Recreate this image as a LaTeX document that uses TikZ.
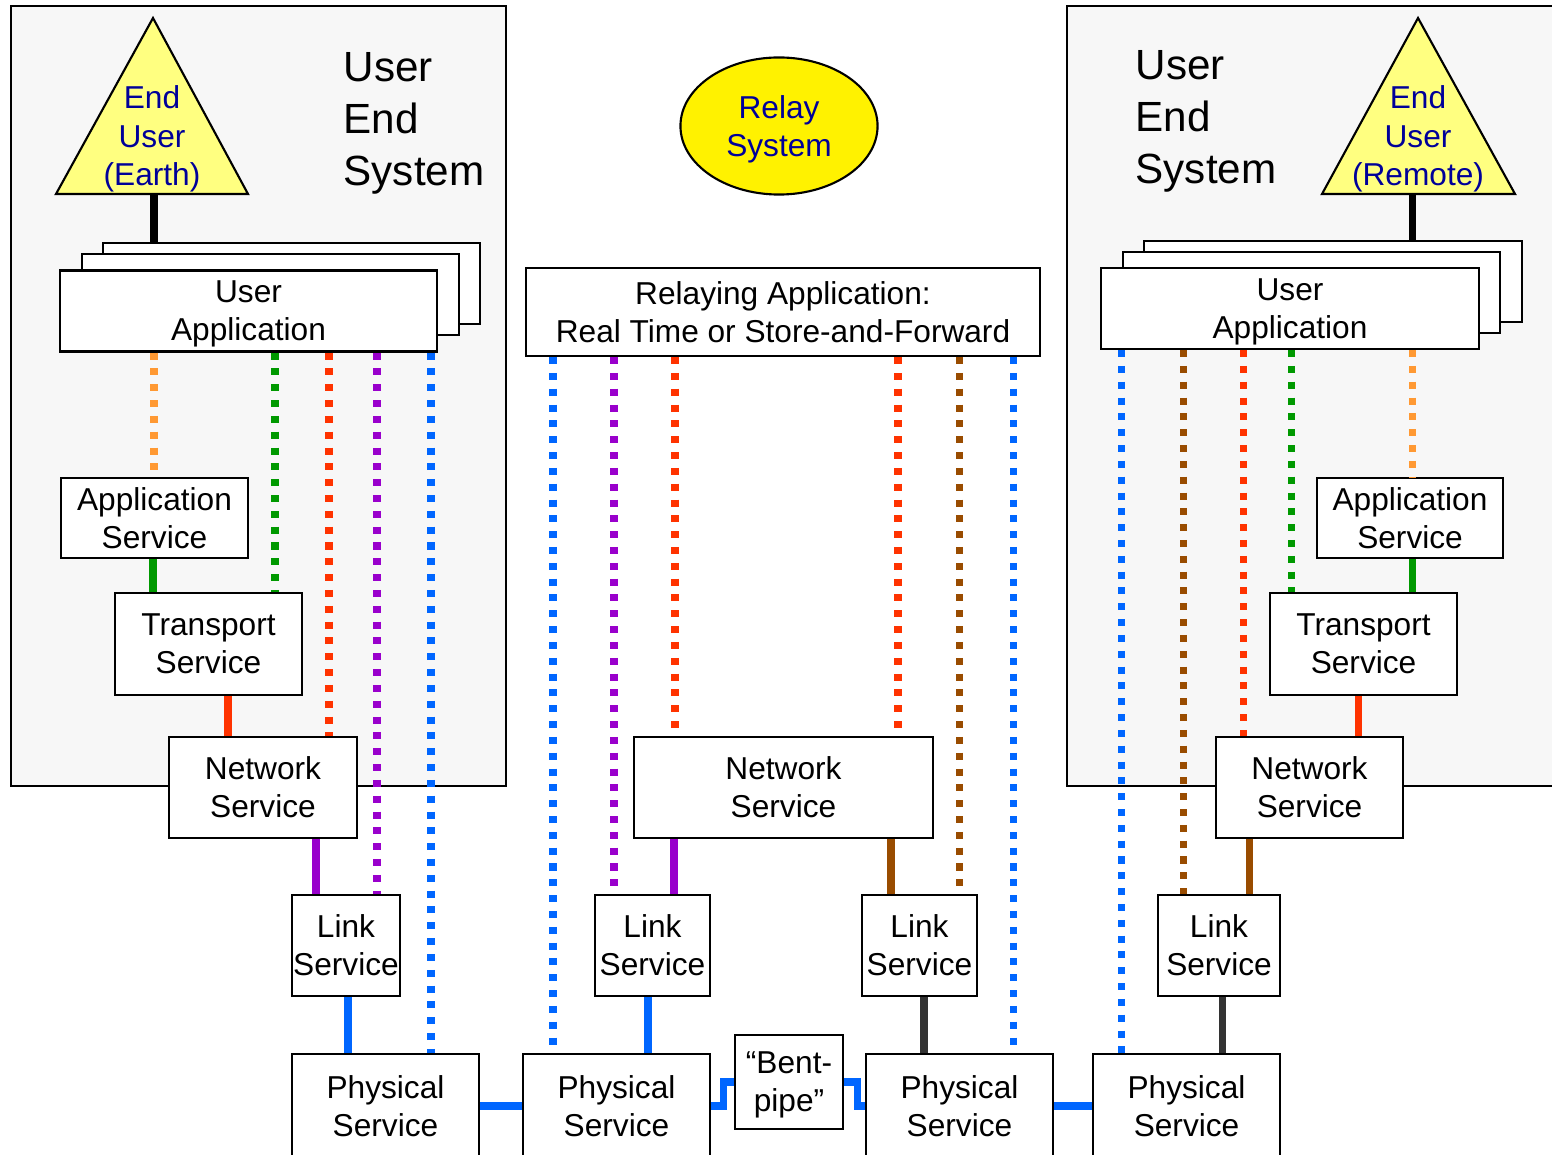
\documentclass[tikz,border=0pt]{standalone}
\usepackage{fontspec}
\setmainfont{Liberation Sans}
\usetikzlibrary{shapes.geometric}
\definecolor{cOrange}{HTML}{FF9933}
\definecolor{cGreen}{HTML}{009900}
\definecolor{cRed}{HTML}{FF3300}
\definecolor{cPurple}{HTML}{9900CC}
\definecolor{cBlue}{HTML}{0066FF}
\definecolor{cBrown}{HTML}{994C00}
\definecolor{cDark}{HTML}{333333}
\definecolor{cGray}{HTML}{F7F7F7}
\definecolor{cPale}{HTML}{FFFF80}
\definecolor{cInk}{HTML}{000099}
\tikzset{
  svc_box/.style = {draw=black, fill=white, line width=0.6pt, align=center,
    inner sep=0pt, text depth=0pt, font=\fontsize{9pt}{10.8pt}\selectfont},% service layer box
  ua_box/.style = {svc_box, minimum width=3.77cm, minimum height=0.81cm},% user application
  phy_box/.style = {svc_box, minimum width=1.87cm, minimum height=1.04cm},
  link_box/.style = {svc_box, minimum height=1.01cm},
  net_box/.style = {svc_box, minimum height=1.01cm},
  sys_box/.style = {draw=black, fill=cGray, line width=0.6pt},% end system frame
  sys_txt/.style = {align=left, inner sep=0pt, anchor=west, text depth=0pt,
    font=\fontsize{12pt}{14.8pt}\selectfont},
  eu_tri/.style = {draw=black, fill=cPale, line width=0.6pt},% end user
  eu_txt/.style = {align=center, inner sep=0pt, text=cInk,
    font=\fontsize{9pt}{10.9pt}\selectfont},
  relay_e/.style = {ellipse, draw=black, fill=yellow, line width=0.6pt, inner sep=0pt,
    minimum width=1.97cm, minimum height=1.37cm, align=center, text=cInk,
    text depth=0pt, font=\fontsize{9pt}{10.9pt}\selectfont},
  solid_l/.style = {line width=2pt},% same-layer link
  dot_l/.style = {line width=2pt, dash pattern=on 2pt off 2.5pt}% peer layer
}
\begin{document}
\begin{tikzpicture}[x=0.01cm, y=-0.01cm]
  \useasboundingbox (0,0) rectangle (1552,1155);
  \clip (0,0) rectangle (1552,1155);
  % end systems
  \draw[sys_box] (11,6) rectangle (506,786);
  \draw[sys_box] (1067,6) rectangle (1600,786);
  \node[sys_txt] (uesL) at (343,119) {User\\End\\System};
  \node[sys_txt] (uesR) at (1135,117) {User\\End\\System};
  \draw[eu_tri] (153,18) -- (248,194) -- (56,194) -- cycle;
  \node[eu_txt] (euL) at (152,139) {End\\User\\(Earth)};
  \coordinate (euLb) at (154,194);
  \draw[eu_tri] (1418,18) -- (1515,194) -- (1322,194) -- cycle;
  \node[eu_txt] (euR) at (1418,139) {End\\User\\(Remote)};
  \coordinate (euRb) at (1412,194);
  \node[relay_e] (rsys) at (779,126) {Relay\\System};
  % applications
  \node[ua_box] (uaL3) at (291.5,283.5) {};
  \node[ua_box] (uaL2) at (270.5,294.5) {};
  \node[ua_box] (uaL) at (248.5,311) {User\\Application};
  \node[ua_box] (uaR3) at (1333,281.5) {};
  \node[ua_box] (uaR2) at (1311.5,292.5) {};
  \node[ua_box] (uaR) at (1290,308.5) {User\\Application};
  \node[svc_box, minimum width=5.14cm, minimum height=0.88cm] (relay) at (783,312)
    {Relaying Application:\\Real Time or Store-and-Forward};
  % left stack
  \node[svc_box, minimum width=1.87cm, minimum height=0.80cm] (appL) at (154.5,518) {Application\\Service};
  \node[svc_box, minimum width=1.87cm, minimum height=1.02cm] (trL) at (208.5,644) {Transport\\Service};
  \node[net_box, minimum width=1.88cm] (netL) at (263,787.5) {Network\\Service};
  \node[link_box, minimum width=1.08cm] (linkL) at (346,945.5) {Link\\Service};
  \node[phy_box] (phyL) at (385.5,1106) {Physical\\Service};
  % relay stack
  \node[net_box, minimum width=2.99cm] (netM) at (783.5,787.5) {Network\\Service};
  \node[link_box, minimum width=1.15cm] (linkML) at (652.5,945.5) {Link\\Service};
  \node[link_box, minimum width=1.15cm] (linkMR) at (919.5,945.5) {Link\\Service};
  \node[phy_box] (phyML) at (616.5,1106) {Physical\\Service};
  \node[phy_box] (phyMR) at (959.5,1106) {Physical\\Service};
  \node[svc_box, minimum width=1.08cm, minimum height=0.94cm] (bent) at (789,1082) {“Bent-\\pipe”};
  % right stack
  \node[svc_box, minimum width=1.86cm, minimum height=0.80cm] (appR) at (1410,518) {Application\\Service};
  \node[svc_box, minimum width=1.87cm, minimum height=1.02cm] (trR) at (1363.5,644) {Transport\\Service};
  \node[net_box, minimum width=1.87cm] (netR) at (1309.5,787.5) {Network\\Service};
  \node[link_box, minimum width=1.22cm] (linkR) at (1219,945.5) {Link\\Service};
  \node[phy_box] (phyR) at (1186.5,1106) {Physical\\Service};
  % peer layers
  \foreach \xx/\lc/\na/\nb in {154/cOrange/uaL/appL, 275/cGreen/uaL/trL, 329/cRed/uaL/netL,
      377/cPurple/uaL/linkL, 431/cBlue/uaL/phyL,
      553/cBlue/relay/phyML, 614/cPurple/relay/linkML, 675/cRed/relay/netM,
      898/cRed/relay/netM, 959/cBrown/relay/linkMR, 1013/cBlue/relay/phyMR,
      1121/cBlue/uaR/phyR, 1183/cBrown/uaR/linkR, 1243/cRed/uaR/netR,
      1291/cGreen/uaR/trR, 1412/cOrange/uaR/appR}
    \draw[dot_l, color=\lc] (\na.south -| \xx,0) -- (\nb.north -| \xx,0);
  % layer to layer
  \foreach \xx/\lc/\na/\nb in {153/cGreen/appL/trL, 228/cRed/trL/netL, 316/cPurple/netL/linkL,
      348/cBlue/linkL/phyL, 674/cPurple/netM/linkML, 648/cBlue/linkML/phyML,
      891/cBrown/netM/linkMR, 924/cDark/linkMR/phyMR, 1412/cGreen/appR/trR,
      1358/cRed/trR/netR, 1249/cBrown/netR/linkR, 1222/cDark/linkR/phyR}
    \draw[solid_l, color=\lc] (\na.south -| \xx,0) -- (\nb.north -| \xx,0);
  \draw[solid_l] (euLb) -- (uaL3.north -| euLb);
  \draw[solid_l] (euRb) -- (uaR3.north -| euRb);
  % physical links
  \draw[solid_l, cBlue] (phyL.east) -- (phyML.west);
  \draw[solid_l, cBlue] (phyML.east) -- ++(12,0) |- (bent.west);
  \draw[solid_l, cBlue] (bent.east) -- ++(13,0) |- (phyMR.west);
  \draw[solid_l, cBlue] (phyMR.east) -- (phyR.west);
\end{tikzpicture}
\end{document}
